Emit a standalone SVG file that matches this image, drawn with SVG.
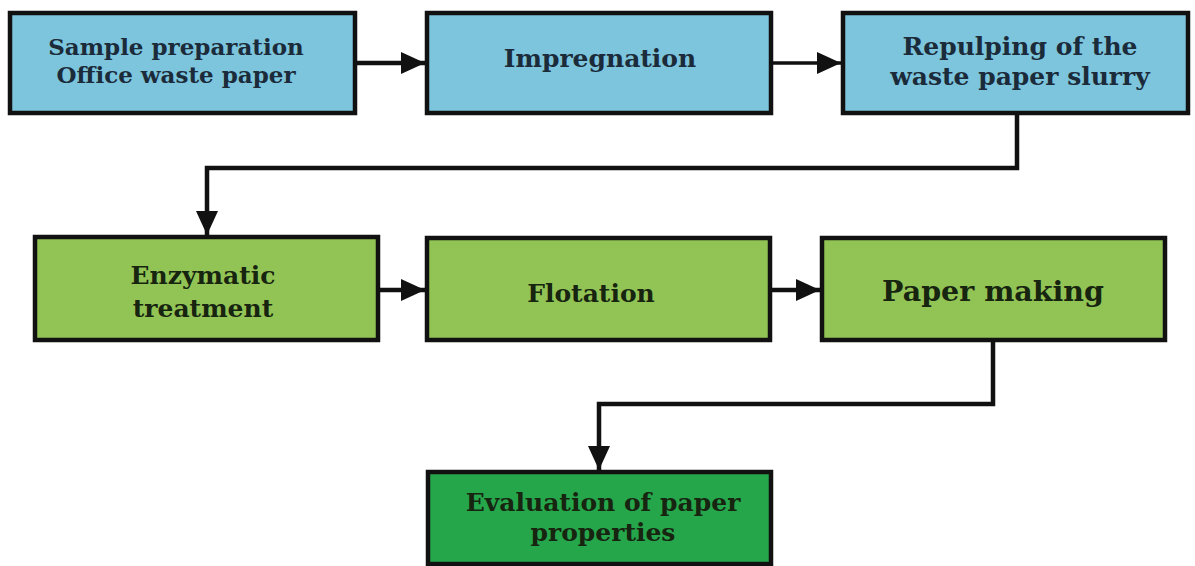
<svg xmlns="http://www.w3.org/2000/svg" width="1195" height="566" viewBox="0 0 1195 566">
<defs>
<style>
.box{stroke:#111;stroke-width:4.5}
.blue{fill:#7cc5dd}
.green{fill:#92c455}
.dgreen{fill:#26a64b}
.t{font-family:"DejaVu Serif","Liberation Serif",serif;font-weight:bold;font-size:25px;text-anchor:middle}
.tb{fill:#1b2b3a}
.tg{fill:#172410}
.c{fill:none;stroke:#111;stroke-width:4.5}
</style>
<marker id="ah" markerWidth="26" markerHeight="24" refX="24" refY="12" orient="auto" markerUnits="userSpaceOnUse">
<path d="M0,1 L24,12 L0,23 Z" fill="#111"/>
</marker>
</defs>
<rect width="1195" height="566" fill="#fff"/>
<g id="connectors">
<path class="c" d="M355,63 H425" marker-end="url(#ah)"/>
<path class="c" d="M771,63 H841" style="stroke-width:3.5" marker-end="url(#ah)"/>
<path class="c" d="M1017,113 V168 H207 V235" marker-end="url(#ah)"/>
<path class="c" d="M378,290 H425" marker-end="url(#ah)"/>
<path class="c" d="M770,290 H820" marker-end="url(#ah)"/>
<path class="c" d="M993,340 V404 H599 V470" marker-end="url(#ah)"/>
</g>
<g id="n1">
<rect class="box blue" x="10" y="13" width="345" height="100"/>
<text class="t tb" x="176" y="55" style="font-size:23px">Sample preparation</text>
<text class="t tb" x="176" y="83" style="font-size:23px">Office waste paper</text>
</g>
<g id="n2">
<rect class="box blue" x="427" y="13" width="344" height="100"/>
<text class="t tb" x="600" y="67">Impregnation</text>
</g>
<g id="n3">
<rect class="box blue" x="843" y="13" width="345" height="100"/>
<text class="t tb" x="1020" y="55">Repulping of the</text>
<text class="t tb" x="1020" y="85">waste paper slurry</text>
</g>
<g id="n4">
<rect class="box green" x="35" y="237" width="343" height="103"/>
<text class="t tg" x="203" y="284">Enzymatic</text>
<text class="t tg" x="203" y="317">treatment</text>
</g>
<g id="n5">
<rect class="box green" x="427" y="238" width="343" height="102"/>
<text class="t tg" x="591" y="302">Flotation</text>
</g>
<g id="n6">
<rect class="box green" x="822" y="238" width="343" height="102"/>
<text class="t tg" x="993" y="301" style="font-size:28.5px">Paper making</text>
</g>
<g id="n7">
<rect class="box dgreen" x="428" y="472" width="343" height="92"/>
<text class="t tg" x="603" y="511">Evaluation of paper</text>
<text class="t tg" x="603" y="541">properties</text>
</g>
</svg>
